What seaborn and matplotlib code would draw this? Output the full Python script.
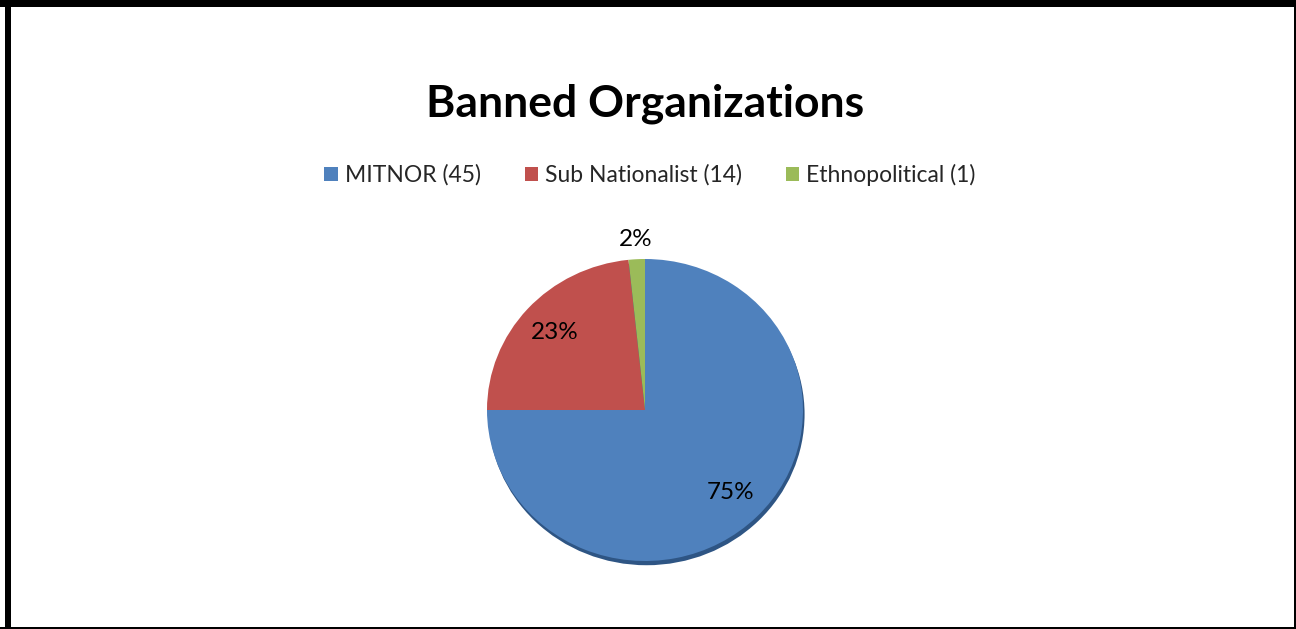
import matplotlib
matplotlib.use("Agg")
import matplotlib.pyplot as plt
import seaborn as sns
import numpy as np
from matplotlib.patches import Rectangle, Ellipse

categories = ["MITNOR", "Sub Nationalist", "Ethnopolitical"]
counts = [45, 14, 1]
colors = ["#4F81BD", "#C0504D", "#9BBB59"]
title = "Banned Organizations"

sns.set_style("white")
plt.rcParams["font.family"] = ["Lato", "DejaVu Sans"]
palette = sns.color_palette(colors)

W, H = 1296, 629
fig = plt.figure(figsize=(W / 100, H / 100), dpi=100)
fig.patch.set_facecolor("white")

# border
for (x0, y0, w, h) in [(0, H - 7, W, 7), (5, 0, 6, H), (W - 2, 0, 2, H), (0, 0, W, 2)]:
    fig.patches.append(Rectangle((x0 / W, y0 / H), w / W, h / H, transform=fig.transFigure,
                                 facecolor="black", edgecolor="none", zorder=10))

fig.text(645 / W, 1 - 104 / H, title, ha="center", va="center", fontsize=32,
         fontweight="bold", color="black")

# pie axes
cx, cy, rx, ry = 645, 410, 158, 151
ax = fig.add_axes([(cx - rx) / W, (H - cy - ry) / H, 2 * rx / W, 2 * ry / H])
shadow = Ellipse((0.01, -0.028), 2, 2, facecolor="#2E5584", edgecolor="none", zorder=0)
shadow.set_clip_on(False)
ax.add_patch(shadow)
wedges, texts, autotexts = ax.pie(
    counts, colors=palette, startangle=90, counterclock=False,
    autopct=lambda p: f"{p:.0f}%", pctdistance=0.77,
    textprops=dict(fontsize=17.5, color="black"),
    wedgeprops=dict(linewidth=0, zorder=1),
)
for wd in wedges:
    wd.set_clip_on(False)
w = wedges[2]
ang = np.deg2rad((w.theta1 + w.theta2) / 2)
autotexts[2].set_position((1.13 * np.cos(ang), 1.13 * np.sin(ang)))
ax.set_aspect("auto")
ax.set_xlim(-1, 1)
ax.set_ylim(-1, 1)
ax.axis("off")

# legend
handles = [plt.Rectangle((0, 0), 1, 1, facecolor=c, edgecolor="none") for c in palette]
labels = [f"{c} ({n})" for c, n in zip(categories, counts)]
fig.legend(handles, labels, loc="center", bbox_to_anchor=(650 / W, 1 - 175 / H), ncol=3,
           frameon=False, fontsize=16.5, handlelength=0.6, handleheight=0.6,
           handletextpad=0.3, columnspacing=1.9)

fig.savefig("out.png", dpi=100, facecolor="white")
